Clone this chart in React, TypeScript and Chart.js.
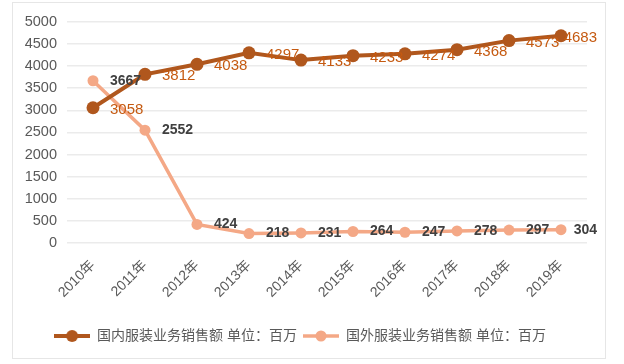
import React, { useEffect, useRef } from "react";
import { Chart, registerables } from "chart.js";

Chart.register(...registerables);

const categories = ["2010年", "2011年", "2012年", "2013年", "2014年", "2015年", "2016年", "2017年", "2018年", "2019年"];
const domesticSales = [3058, 3812, 4038, 4297, 4133, 4233, 4274, 4368, 4573, 4683];
const foreignSales = [3667, 2552, 424, 218, 231, 264, 247, 278, 297, 304];
const seriesNames = ["国内服装业务销售额 单位：百万", "国外服装业务销售额 单位：百万"];
const yTickMax = 5000;
const yTickStep = 500;

const DOMESTIC_COLOR = "#B0571D";
const DOMESTIC_LABEL = "#C55A11";
const FOREIGN_COLOR = "#F4A886";
const FOREIGN_LABEL = "#404040";
const FONT = "'Liberation Sans', Arial, 'Noto Sans CJK SC', sans-serif";

function makeLegendIcon(color: string, lineWidth: number, radius: number) {
  const c = document.createElement("canvas");
  c.width = 36;
  c.height = 14;
  const ctx = c.getContext("2d")!;
  ctx.strokeStyle = color;
  ctx.lineWidth = lineWidth;
  ctx.beginPath();
  ctx.moveTo(0, 7);
  ctx.lineTo(36, 7);
  ctx.stroke();
  ctx.fillStyle = color;
  ctx.beginPath();
  ctx.arc(18, 7, radius, 0, Math.PI * 2);
  ctx.fill();
  return c;
}

const dataLabelPlugin = {
  id: "dataLabels",
  afterDatasetsDraw(chart: any) {
    const ctx = chart.ctx;
    const cfgs = [
      { idx: 0, color: DOMESTIC_LABEL, font: `500 15px ${FONT}`, dy: 2 },
      { idx: 1, color: FOREIGN_LABEL, font: `bold 14px ${FONT}`, dy: 0 },
    ];
    ctx.save();
    for (const c of cfgs) {
      const meta = chart.getDatasetMeta(c.idx);
      const data = chart.data.datasets[c.idx].data as number[];
      ctx.font = c.font;
      ctx.fillStyle = c.color;
      ctx.textAlign = "left";
      ctx.textBaseline = "middle";
      meta.data.forEach((pt: any, i: number) => {
        const text = String(data[i]);
        const w = ctx.measureText(text).width;
        let x = pt.x + 17;
        const maxX = chart.width - 8 - w;
        if (x > maxX) x = maxX;
        ctx.fillText(text, x, pt.y + c.dy);
      });
    }
    ctx.restore();
  },
};

export default function App() {
  const canvasRef = useRef<HTMLCanvasElement | null>(null);

  useEffect(() => {
    const icons = [makeLegendIcon(DOMESTIC_COLOR, 4, 6), makeLegendIcon(FOREIGN_COLOR, 3.5, 5.5)];
    const chart = new Chart(canvasRef.current!, {
      type: "line",
      data: {
        labels: categories,
        datasets: [
          {
            label: seriesNames[0],
            data: domesticSales,
            borderColor: DOMESTIC_COLOR,
            backgroundColor: DOMESTIC_COLOR,
            borderWidth: 4,
            pointRadius: 6.5,
            pointBorderWidth: 0,
            pointBackgroundColor: DOMESTIC_COLOR,
            tension: 0,
          },
          {
            label: seriesNames[1],
            data: foreignSales,
            borderColor: FOREIGN_COLOR,
            backgroundColor: FOREIGN_COLOR,
            borderWidth: 3.5,
            pointRadius: 5.5,
            pointBorderWidth: 0,
            pointBackgroundColor: FOREIGN_COLOR,
            tension: 0,
          },
        ],
      },
      options: {
        animation: false,
        responsive: true,
        maintainAspectRatio: false,
        layout: { padding: { left: 0, right: 18, top: 17, bottom: 5 } },
        plugins: {
          tooltip: { enabled: false },
          legend: {
            position: "bottom",
            labels: {
              usePointStyle: true,
              pointStyleWidth: 36,
              padding: 6,
              color: "#595959",
              font: { size: 14, family: FONT },
              generateLabels: (ch: any) => {
                const items = Chart.defaults.plugins.legend.labels.generateLabels(ch);
                return items.map((it: any, i: number) => ({ ...it, pointStyle: icons[i], lineWidth: 0 }));
              },
            },
          },
        },
        scales: {
          x: {
            offset: true,
            grid: { display: false, drawTicks: false },
            border: { display: false },
            afterFit: (scale: any) => {
              scale.height = scale.height + 8;
            },
            ticks: {
              color: "#595959",
              font: { size: 14, family: FONT },
              minRotation: 45,
              maxRotation: 45,
              padding: 14,
            },
          },
          y: {
            min: 0,
            max: yTickMax,
            grid: { color: "#EBEBEB", lineWidth: 1.5, drawTicks: false },
            border: { display: false },
            afterFit: (scale: any) => {
              scale.width = 54;
            },
            ticks: {
              stepSize: yTickStep,
              color: "#595959",
              font: { size: 14.5, family: FONT },
              padding: 10,
              callback: (v: any) => String(v),
            },
          },
        },
      },
      plugins: [dataLabelPlugin],
    } as any);
    return () => chart.destroy();
  }, []);

  return (
    <div
      style={{
        position: "absolute",
        left: 12,
        top: 2,
        width: 594,
        height: 357,
        border: "1px solid #E6E6E6",
        boxSizing: "border-box",
        background: "#fff",
      }}
    >
      <canvas ref={canvasRef} />
    </div>
  );
}
